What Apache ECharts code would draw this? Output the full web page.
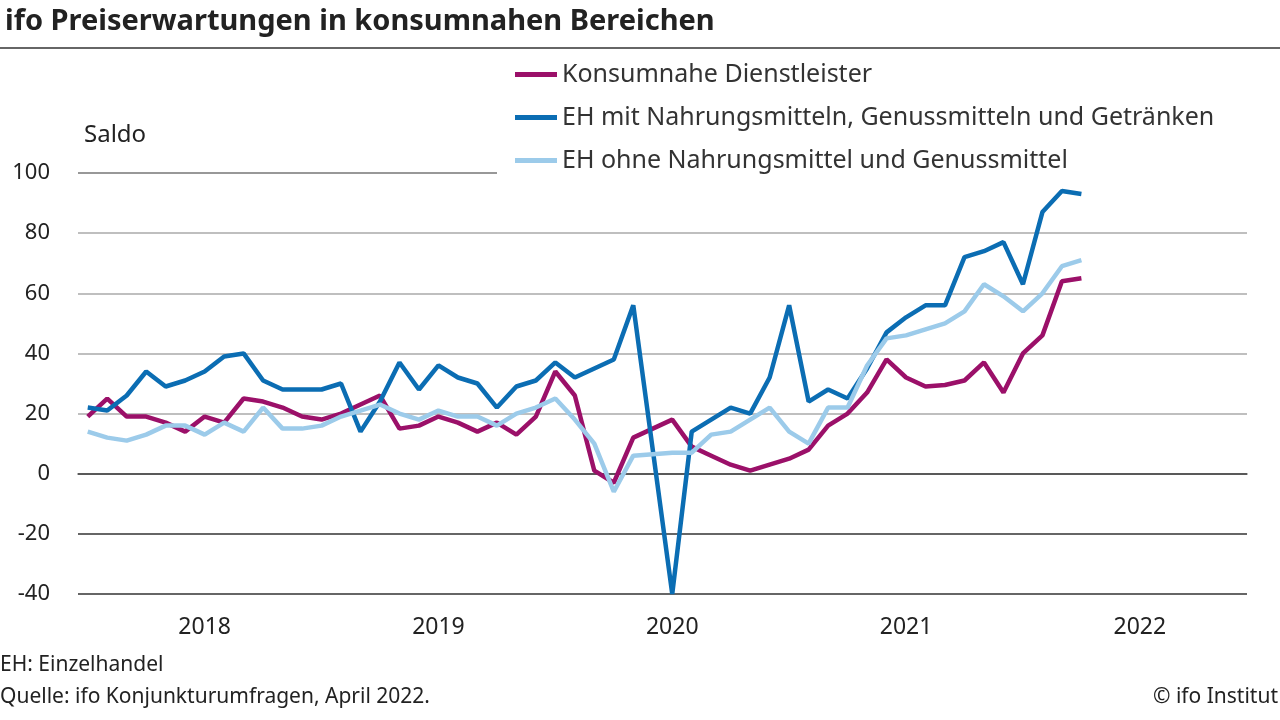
<!DOCTYPE html>
<html><head><meta charset="utf-8">
<script src="https://cdn.jsdelivr.net/npm/echarts@6/dist/echarts.min.js"></script>
<style>html,body{margin:0;padding:0;background:#fff}#c{width:1280px;height:720px}</style>
</head><body><div id="c"></div>
<script>
// Monate Jan 2018 .. Dez 2022
var years = ['2018', '2019', '2020', '2021', '2022'];
var months = [];
years.forEach(function (y) { for (var m = 1; m <= 12; m++) months.push(y + '-' + m); });

var dienstleister = [19, 25, 19, 19, 17, 14, 19, 17, 25, 24, 22, 19,
  18, 20, 23, 26, 15, 16, 19, 17, 14, 17, 13, 19,
  34, 26, 1, -3, 12, 15, 18, 9, 6, 3, 1, 3,
  5, 8, 16, 20, 27, 38, 32, 29, 29.5, 31, 37, 27,
  40, 46, 64, 65];
var ehMitNahrung = [22, 21, 26, 34, 29, 31, 34, 39, 40, 31, 28, 28,
  28, 30, 14, 24, 37, 28, 36, 32, 30, 22, 29, 31,
  37, 32, 35, 38, 56, 8, -40, 14, 18, 22, 20, 32,
  56, 24, 28, 25, 35, 47, 52, 56, 56, 72, 74, 77,
  63, 87, 94, 93];
var ehOhneNahrung = [14, 12, 11, 13, 16, 16, 13, 17, 14, 22, 15, 15,
  16, 19, 21, 23, 20, 18, 21, 19, 19, 16, 20, 22,
  25, 18, 10, -6, 6, 6.5, 7, 7, 13, 14, 18, 22,
  14, 10, 22, 22, 36, 45, 46, 48, 50, 54, 63, 59,
  54, 60, 69, 71];
var yTicks = [-40, -20, 0, 20, 40, 60, 80, 100];

var font = '"Noto Sans", sans-serif';
var chart = echarts.init(document.getElementById('c'));
function line(name, data, color) {
  return { name: name, type: 'line', data: data, symbol: 'none',
    lineStyle: { color: color, width: 4.5 }, itemStyle: { color: color } };
}
chart.setOption({
  animation: false,
  grid: { left: 78, right: 33, top: 173, bottom: 126 },
  title: { text: 'ifo Preiserwartungen in konsumnahen Bereichen', left: 0, top: 2,
    textStyle: { fontFamily: font, fontWeight: 'bold', fontSize: 29, color: '#222' } },
  legend: { orient: 'vertical', left: 510, top: 57, itemGap: 18, itemWidth: 42, itemHeight: 5,
    icon: 'rect', textStyle: { fontFamily: font, fontSize: 25, color: '#333' } },
  xAxis: { type: 'category', data: months, boundaryGap: true,
    axisLine: { lineStyle: { color: '#555', width: 1.5 } },
    axisTick: { interval: 11, length: 8, lineStyle: { color: '#555' } },
    axisLabel: { interval: function (i) { return i % 12 === 6; }, margin: 22,
      formatter: function (v) { return v.split('-')[0]; },
      fontFamily: font, fontSize: 23, color: '#222' },
    splitLine: { show: false } },
  yAxis: { type: 'value', min: yTicks[0], max: yTicks[yTicks.length - 1], interval: 20,
    name: 'Saldo', nameLocation: 'end', nameGap: 26,
    nameTextStyle: { fontFamily: font, fontSize: 24, color: '#222', align: 'left', padding: [0, 0, 0, 6] },
    axisLine: { show: false }, axisTick: { show: false },
    axisLabel: { fontFamily: font, fontSize: 22, color: '#222', margin: 28 },
    splitLine: { lineStyle: { width: 1.5,
      color: ['#333', '#333', '#333', '#aaa', '#aaa', '#aaa', '#aaa', 'rgba(0,0,0,0)'] } } },
  graphic: [
    { type: 'line', shape: { x1: 0, y1: 48, x2: 1280, y2: 48 }, style: { stroke: '#333', lineWidth: 1.5 } },
    { type: 'line', shape: { x1: 78, y1: 173, x2: 497, y2: 173 }, style: { stroke: '#333', lineWidth: 1.2 } },
    { type: 'text', left: 0, top: 655, style: { text: 'EH: Einzelhandel', font: '21px ' + font, fill: '#222' } },
    { type: 'text', left: 0, top: 687, style: { text: 'Quelle: ifo Konjunkturumfragen, April 2022.', font: '21px ' + font, fill: '#222' } },
    { type: 'text', right: 2, top: 687, style: { text: '© ifo Institut', font: '21px ' + font, fill: '#222' } }
  ],
  series: [
    line('Konsumnahe Dienstleister', dienstleister, '#9b1069'),
    line('EH mit Nahrungsmitteln, Genussmitteln und Getränken', ehMitNahrung, '#0b6db3'),
    line('EH ohne Nahrungsmittel und Genussmittel', ehOhneNahrung, '#9ccbea')
  ]
});
</script></body></html>
